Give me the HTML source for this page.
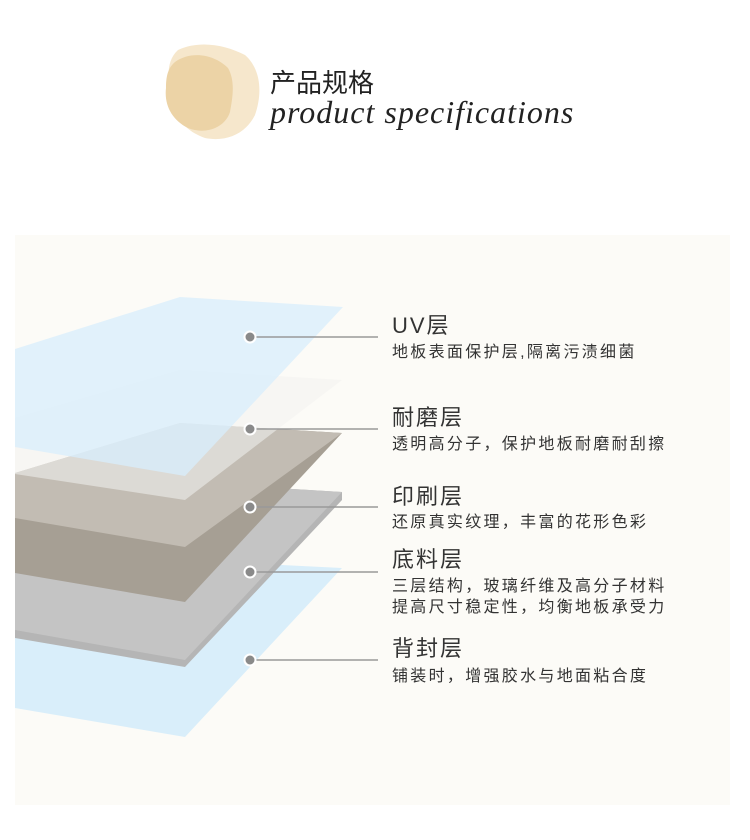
<!DOCTYPE html>
<html><head><meta charset="utf-8"><style>
html,body{margin:0;padding:0;background:#fff;width:750px;height:840px;overflow:hidden;position:relative;font-family:"Liberation Sans","Noto Sans CJK SC",sans-serif;color:#333}
.t{position:absolute;left:392px;font-size:22px;letter-spacing:2px;line-height:24px;color:#333}
.s{position:absolute;left:392px;font-size:16px;letter-spacing:2.3px;line-height:21px;color:#333}
</style></head><body>
<svg width="750" height="840" style="position:absolute;left:0;top:0">
<rect x="15" y="235" width="715" height="570" fill="#fcfbf7"/>
<path d="M178,50 C200,40 225,45 245,55 C262,70 262,95 255,115 C245,135 225,142 205,138 C188,132 175,120 172,100 C168,80 165,62 178,50Z" fill="#f6e7cc"/>
<path d="M175,62 C192,50 215,55 228,68 C236,82 232,100 230,112 C225,128 205,135 188,128 C172,120 164,105 166,88 C166,76 168,68 175,62Z" fill="#ecd3a6"/>
<polygon points="15,600 180,560 342,568 185,737 15,708" fill="#d9eefa"/>
<polygon points="15,540 180,482 342,492 342,500 185,667 15,638" fill="#b5b5b5"/>
<polygon points="15,540 180,482 342,492 185,660 15,630" fill="#c4c4c4"/>
<polygon points="15,473 180,423 342,433 185,602 15,573" fill="#a69f94"/>
<polygon points="15,473 180,423 342,433 185,547 15,518" fill="#c2bcb3"/>
<polygon points="15,418 180,370 342,380 185,500 15,474" fill="#f2f2f0" opacity="0.55"/>
<polygon points="15,349 180,297 343,307 185,476 15,447" fill="#d8eefc" opacity="0.75"/>
<g stroke="#999" stroke-width="1.5">
<line x1="250" y1="337" x2="378" y2="337"/><line x1="250" y1="429" x2="378" y2="429"/>
<line x1="250" y1="507" x2="378" y2="507"/><line x1="250" y1="572" x2="378" y2="572"/>
<line x1="250" y1="660" x2="378" y2="660"/></g>
<g fill="#8a8a8a" stroke="#fff" stroke-width="2">
<circle cx="250" cy="337" r="5.5"/><circle cx="250" cy="429" r="5.5"/><circle cx="250" cy="507" r="5.5"/>
<circle cx="250" cy="572" r="5.5"/><circle cx="250" cy="660" r="5.5"/></g>
</svg>
<div style="position:absolute;left:270px;top:63px;font-size:26px;color:#222">产品规格</div>
<div style="position:absolute;left:270px;top:94px;font-size:32px;font-family:'Liberation Serif',serif;font-style:italic;color:#222;letter-spacing:1px">product specifications</div>
<div class="t" style="top:314px">UV层</div>
<div class="s" style="top:342px">地板表面保护层,隔离污渍细菌</div>
<div class="t" style="top:406px">耐磨层</div>
<div class="s" style="top:434px">透明高分子，保护地板耐磨耐刮擦</div>
<div class="t" style="top:485px">印刷层</div>
<div class="s" style="top:512px">还原真实纹理，丰富的花形色彩</div>
<div class="t" style="top:548px">底料层</div>
<div class="s" style="top:576px">三层结构，玻璃纤维及高分子材料</div>
<div class="s" style="top:597px">提高尺寸稳定性，均衡地板承受力</div>
<div class="t" style="top:637px">背封层</div>
<div class="s" style="top:666px">铺装时，增强胶水与地面粘合度</div>
</body></html>
